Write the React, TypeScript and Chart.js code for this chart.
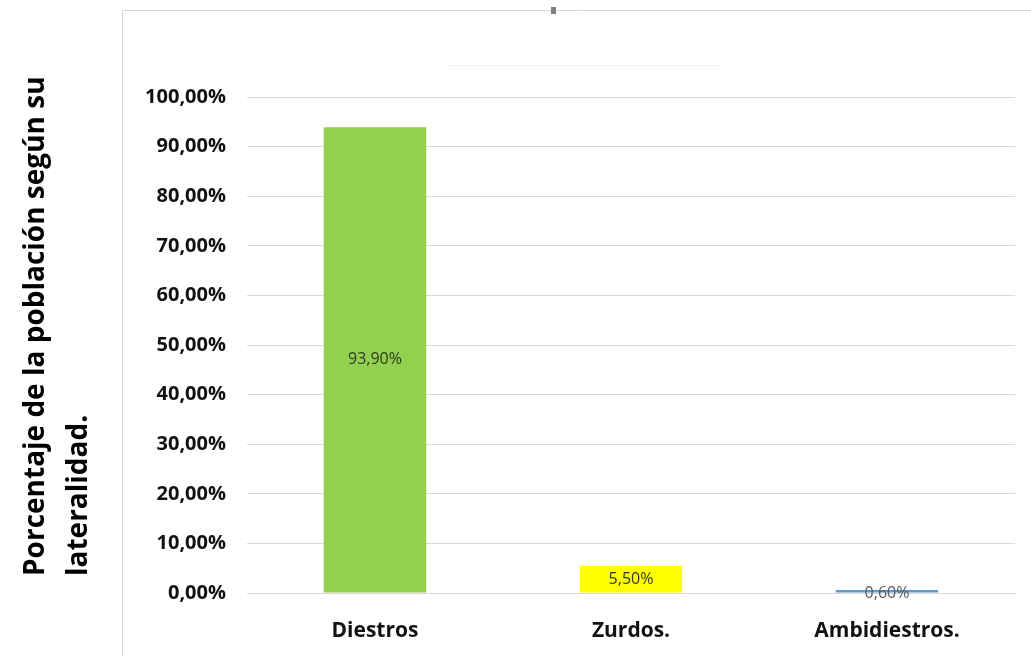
import React, { useEffect, useRef } from "react";
import { Chart, registerables } from "chart.js";

Chart.register(...registerables);

const categories = ["Diestros", "Zurdos.", "Ambidiestros."];
const percentages = [93.9, 5.5, 0.6];
const barColors = ["#92D050", "#FFFF00", "#5B9BD5"];
const yTitleLines = ["Porcentaje de la población según su", "lateralidad."];

const fmt = (v: number) => v.toFixed(2).replace(".", ",") + "%";

// Frame, marker and rotated axis title drawn around the plot
const decorations = {
  id: "decorations",
  beforeDraw(chart: any) {
    const { ctx } = chart;
    ctx.save();
    ctx.fillStyle = "#ffffff";
    ctx.fillRect(0, 0, chart.width, chart.height);
    ctx.strokeStyle = "#d9d9d9";
    ctx.lineWidth = 1;
    ctx.beginPath();
    ctx.moveTo(122.5, chart.height);
    ctx.lineTo(122.5, 10.5);
    ctx.lineTo(chart.width, 10.5);
    ctx.stroke();
    ctx.fillStyle = "#7f7f7f";
    ctx.fillRect(551, 7, 5, 7);
    ctx.strokeStyle = "#f3f3f3";
    ctx.beginPath();
    ctx.moveTo(445, 65.5);
    ctx.lineTo(720, 65.5);
    ctx.stroke();
    ctx.restore();
  },
  afterDraw(chart: any) {
    const { ctx } = chart;
    ctx.save();
    ctx.fillStyle = "#000000";
    ctx.font = "bold 28px 'Open Sans', sans-serif";
    ctx.textAlign = "left";
    ctx.textBaseline = "middle";
    const xs = [36, 79];
    yTitleLines.forEach((line, i) => {
      ctx.save();
      ctx.translate(xs[i], 576);
      ctx.rotate(-Math.PI / 2);
      ctx.fillText(line, 0, 0);
      ctx.restore();
    });
    ctx.restore();
  },
};

// Value labels centred on each bar
const valueLabels = {
  id: "valueLabels",
  afterDatasetsDraw(chart: any) {
    const { ctx } = chart;
    const meta = chart.getDatasetMeta(0);
    ctx.save();
    ctx.font = "16px 'Open Sans', sans-serif";
    ctx.textAlign = "center";
    ctx.textBaseline = "middle";
    meta.data.forEach((bar: any, i: number) => {
      const v = percentages[i];
      const y = (bar.y + bar.base) / 2;
      ctx.fillStyle = i === 2 ? "#595959" : "#2f3a20";
      ctx.fillText(fmt(v), bar.x, y + (i === 2 ? 2 : 0));
    });
    ctx.restore();
  },
};

export default function App() {
  const ref = useRef<HTMLCanvasElement>(null);

  useEffect(() => {
    if (!ref.current) return;
    const chart = new Chart(ref.current, {
      type: "bar",
      data: {
        labels: categories,
        datasets: [
          {
            data: percentages,
            backgroundColor: barColors,
            borderWidth: 0,
            barPercentage: 0.4,
            categoryPercentage: 1,
            minBarLength: 2,
          },
        ],
      },
      options: {
        responsive: false,
        animation: false,
        layout: { padding: { left: 122, top: 97, right: 16, bottom: 0 } },
        plugins: {
          legend: { display: false },
          tooltip: { enabled: false },
          title: { display: false },
        },
        scales: {
          y: {
            min: 0,
            max: 100,
            ticks: {
              stepSize: 10,
              padding: 21,
              color: "#111111",
              font: { family: "'Open Sans', sans-serif", size: 20, weight: "bold" },
              callback: (v: any) => fmt(Number(v)),
            },
            grid: { color: "#d9d9d9", lineWidth: 1, drawTicks: false },
            border: { display: false },
            afterFit: (scale: any) => {
              scale.width = 125;
            },
          },
          x: {
            ticks: {
              padding: 25,
              color: "#111111",
              font: { family: "'Open Sans', sans-serif", size: 21, weight: "bold" },
            },
            grid: { display: false, drawTicks: false },
            border: { color: "#d9d9d9" },
            afterFit: (scale: any) => {
              scale.height = 63;
            },
          },
        },
      },
      plugins: [decorations, valueLabels],
    });
    return () => chart.destroy();
  }, []);

  return (
    <div style={{ position: "fixed", left: 0, top: 0, width: 1031, height: 656 }}>
      <canvas ref={ref} width={1031} height={656} />
    </div>
  );
}
